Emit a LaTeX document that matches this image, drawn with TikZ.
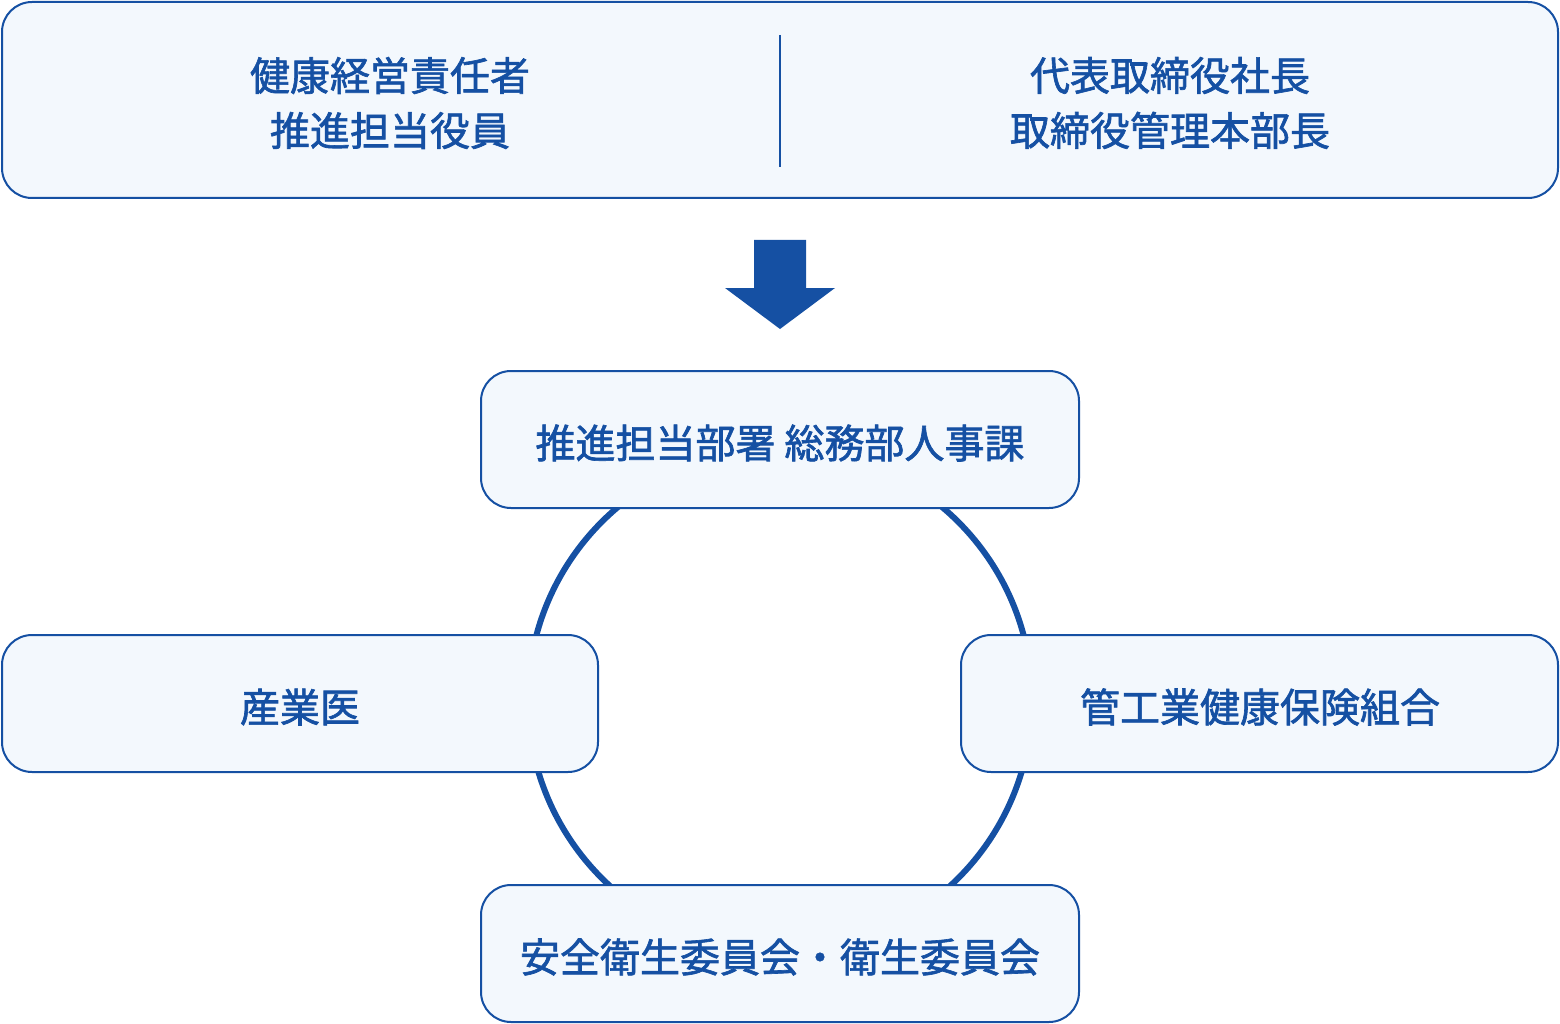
\documentclass[tikz,border=0pt]{standalone}
\usepackage{fontspec}
\setmainfont{Noto Sans CJK JP}
\newfontfamily\cjk[FakeBold=1.6]{Noto Sans CJK JP}
\definecolor{mainblue}{HTML}{1550A3}
\definecolor{boxfill}{HTML}{F3F8FD}
\begin{document}
\begin{tikzpicture}[x=1pt,y=-1pt,
  box/.style={draw=mainblue,line width=2pt,fill=boxfill,rounded corners=30pt,
    rectangle,inner sep=0pt},
  label/.style={text=mainblue,align=center,inner sep=0pt,
    font=\cjk\fontsize{40}{55}\selectfont}]
\useasboundingbox (0,0) rectangle (1560,1024);
% ring behind the boxes
\node[circle,draw=mainblue,line width=6pt,minimum size=504pt,inner sep=0pt] (ring) at (780,700) {};
% top box
\node[box,minimum width=1556pt,minimum height=196pt] (top) at (780,100) {};
\node[label] (topL) at (390,103) {健康経営責任者\\推進担当役員};
\node[label] (topR) at (1170,103) {代表取締役社長\\取締役管理本部長};
\coordinate (divA) at (780,35);
\coordinate (divB) at (780,167);
\draw[mainblue,line width=2.5pt] (divA) -- (divB);
% arrow
\fill[mainblue] (754,240) -- (806,240) -- (806,288) -- (835,288) -- (780,329) -- (725,288) -- (754,288) -- cycle;
% ring boxes
\node[box,minimum width=598pt,minimum height=137pt] (hq) at (780,439.5) {};
\node[label] (hqT) at (780,443) {推進担当部署 総務部人事課};
\node[box,minimum width=596pt,minimum height=137pt] (doc) at (300,703.5) {};
\node[label] (docT) at (300,707) {産業医};
\node[box,minimum width=597pt,minimum height=137pt] (ins) at (1259.5,703.5) {};
\node[label] (insT) at (1260,707) {管工業健康保険組合};
\node[box,minimum width=598pt,minimum height=137pt] (com) at (780,953.5) {};
\node[label] (comT) at (780,957) {安全衛生委員会・衛生委員会};
\end{tikzpicture}
\end{document}
